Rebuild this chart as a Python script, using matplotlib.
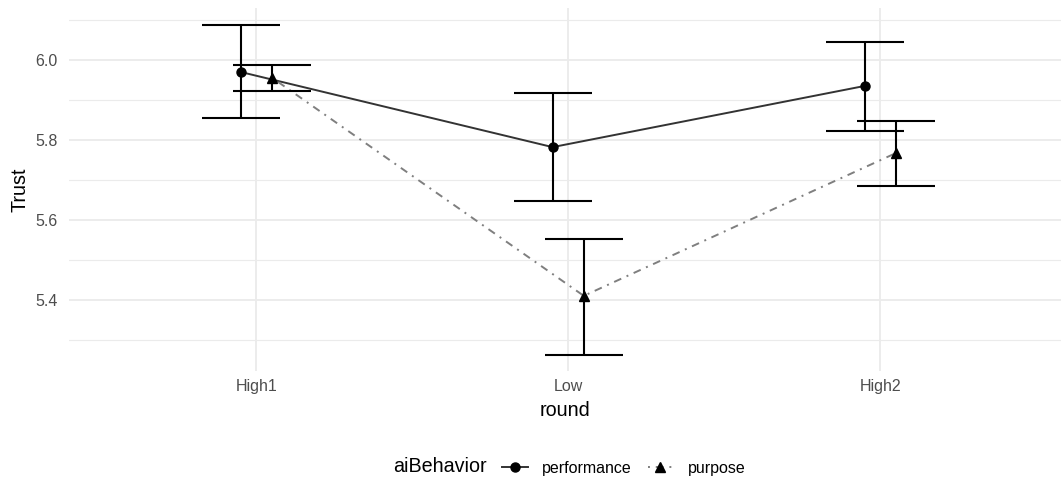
import matplotlib.pyplot as plt
import numpy as np
from matplotlib.lines import Line2D
from matplotlib.ticker import MultipleLocator

plt.rcParams['font.family'] = ['Liberation Sans', 'DejaVu Sans']

# trust per round, mean with confidence interval
rounds = ["High1", "Low", "High2"]
behaviors = ["performance", "purpose"]

perf_mean = [5.970, 5.782, 5.935]
perf_lo = [5.854, 5.646, 5.823]
perf_hi = [6.088, 5.917, 6.045]

purp_mean = [5.956, 5.410, 5.767]
purp_lo = [5.923, 5.263, 5.686]
purp_hi = [5.988, 5.553, 5.847]

fig = plt.figure(figsize=(10.61, 4.83), dpi=100)
ax = fig.add_axes([69 / 1061, 1 - 371 / 483, 992 / 1061, 362.6 / 483])

x = np.arange(1, len(rounds) + 1)
dodge = 0.05
cap = 0.125

series = [
    (perf_mean, perf_lo, perf_hi, -dodge, 'o', '-', '#333333'),
    (purp_mean, purp_lo, purp_hi, dodge, '^', (0, (1, 3, 4, 3)), '#7f7f7f'),
]
for mean, lo, hi, off, mk, ls, lc in series:
    xs = x + off
    ax.plot(xs, mean, color=lc, ls=ls, lw=1.4, zorder=2)
    ax.plot(xs, mean, ls='none', marker=mk, ms=6.5, color='black', zorder=4)
    ax.vlines(xs, lo, hi, color='black', lw=1.5, zorder=3)
    ax.hlines(lo, xs - cap, xs + cap, color='black', lw=1.5, zorder=3)
    ax.hlines(hi, xs - cap, xs + cap, color='black', lw=1.5, zorder=3)

ax.set_xlim(0.4, 0.4 + 992 / 312)
ax.set_ylim(5.222, 6.129)
ax.set_xticks(x)
ax.set_xticklabels(rounds)
ax.yaxis.set_major_locator(MultipleLocator(0.2))
ax.yaxis.set_minor_locator(MultipleLocator(0.1))
ax.yaxis.set_major_formatter(plt.FormatStrFormatter('%.1f'))

ax.grid(which='major', color='#ebebeb', lw=1.3)
ax.grid(which='minor', axis='y', color='#ebebeb', lw=0.8)
ax.set_axisbelow(True)
for s in ax.spines.values():
    s.set_visible(False)
ax.tick_params(which='both', length=0, labelsize=11.5, labelcolor='#4d4d4d')
ax.tick_params(axis='y', pad=8)
ax.tick_params(axis='x', pad=6)

ax.set_xlabel('round', fontsize=14.2, labelpad=5)
ax.set_ylabel('Trust', fontsize=14.2, labelpad=4)

# legend along the bottom, title on the left
handles = [
    Line2D([], [], color='#333333', ls='-', lw=1.4, marker='o', ms=6.5,
           mfc='black', mec='black'),
    Line2D([], [], color='#7f7f7f', ls=(0, (1, 3, 4, 3)), lw=1.4, marker='^',
           ms=6.5, mfc='black', mec='black'),
]
fig.text(487 / 1061, 1 - 467 / 483, 'aiBehavior', fontsize=14.2,
         ha='right', va='center')
fig.legend(handles, behaviors, loc='center left',
           bbox_to_anchor=(502 / 1061, 1 - 468 / 483), ncol=2, frameon=False,
           fontsize=11.5, handlelength=1.6, handletextpad=0.9,
           columnspacing=1.0, borderpad=0, borderaxespad=0)

fig.savefig('out.png', dpi=100)
